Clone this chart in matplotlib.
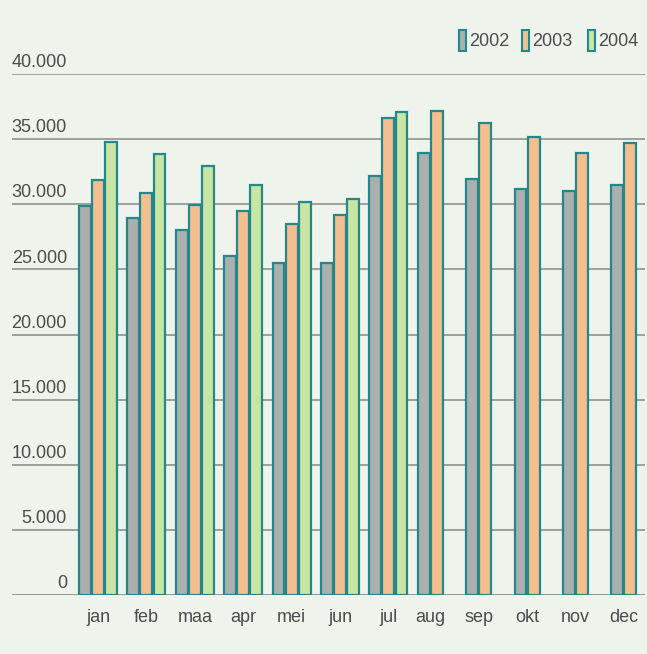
import numpy as np
import matplotlib
matplotlib.use("Agg")
import matplotlib.pyplot as plt
from matplotlib.patches import Rectangle
from matplotlib.transforms import offset_copy

months = ["jan", "feb", "maa", "apr", "mei", "jun", "jul", "aug", "sep", "okt", "nov", "dec"]
years = ["2002", "2003", "2004"]
v2002 = [29900, 28950, 28000, 26000, 25500, 25500, 32200, 33900, 31950, 31200, 31000, 31500]
v2003 = [31850, 30900, 29950, 29450, 28450, 29200, 36600, 37150, 36200, 35200, 33950, 34700]
v2004 = [34800, 33850, 32900, 31450, 30200, 30400, 37100, np.nan, np.nan, np.nan, np.nan, np.nan]
yticks = [0, 5000, 10000, 15000, 20000, 25000, 30000, 35000, 40000]
ytick_labels = ["0", "5.000", "10.000", "15.000", "20.000", "25.000", "30.000", "35.000", "40.000"]

fills = ["#aab0ae", "#f4bf90", "#c8e5a4"]
edge = "#23878c"
bg = "#eef3ec"
grid_c = "#959a95"
text_c = "#4a4d4b"

plt.rcParams['font.family'] = ['Liberation Sans Narrow', 'Liberation Sans', 'DejaVu Sans']

W, H = 647, 654
fig = plt.figure(figsize=(W / 100, H / 100), dpi=100, facecolor=bg)
ax = fig.add_axes([12 / W, (H - 595) / H, (645 - 12) / W, (595 - 74) / H])
ax.set_facecolor(bg)

series = [v2002, v2003, v2004]
x = np.arange(len(months))
width = 0.245
offs = [-0.27, 0.0, 0.27]
for vals, off, fc in zip(series, offs, fills):
    ax.bar(x + off, vals, width, color=fc, edgecolor=edge, linewidth=1.6, zorder=3)

# tick positions centered under bars present
arr = np.array(series, dtype=float)
tick_pos = []
for i in range(len(months)):
    present = [offs[k] for k in range(3) if not np.isnan(arr[k, i])]
    tick_pos.append(i + np.mean(present))
ax.set_xticks(tick_pos)
ax.set_xticklabels(months, fontsize=13, color=text_c)
ax.tick_params(axis='x', length=0, pad=10)

ax.set_xlim((12 - 98) / 48.4, (645 - 98) / 48.4)
ax.set_ylim(0, 40000)
ax.set_yticks(yticks)
ax.set_yticklabels([])
ax.tick_params(axis='y', length=0)
ax.grid(axis='y', color=grid_c, linewidth=1.3, zorder=1)
ax.set_axisbelow(True)
for s in ax.spines.values():
    s.set_visible(False)
ax.axhline(0, color=grid_c, linewidth=1.3, zorder=2)

trans = offset_copy(ax.get_yaxis_transform(), fig=fig, x=0, y=2, units='points')
for val, lab in zip(yticks, ytick_labels):
    ax.text((67 - 12) / 633, val, lab, transform=trans, ha='right', va='bottom',
            fontsize=13, color=text_c)

# legend
leg_x = [459, 522, 588]
for lx, fc, yr in zip(leg_x, fills, years):
    fig.add_artist(Rectangle((lx / W, (H - 51) / H), 7 / W, 21 / H, transform=fig.transFigure,
                             facecolor=fc, edgecolor=edge, linewidth=1.5))
    fig.text((lx + 10) / W, (H - 41) / H, yr, ha='left', va='center', fontsize=13, color=text_c)

fig.savefig("out.png", dpi=100, facecolor=bg)
